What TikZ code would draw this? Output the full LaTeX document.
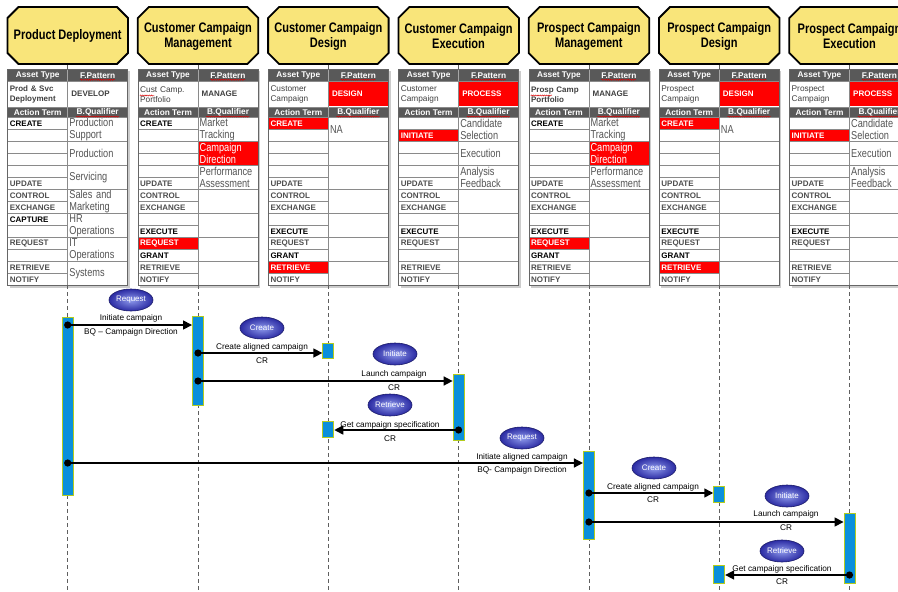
\documentclass[tikz,border=0pt]{standalone}
\usepackage{fontspec}
\setmainfont{Liberation Sans}
\newfontfamily\narrowfont[FakeStretch=0.8]{Liberation Sans}
\usetikzlibrary{arrows.meta,shapes.geometric,decorations.pathmorphing}

\definecolor{hdrfill}{HTML}{F9E57A}
\definecolor{thead}{HTML}{595959}
\definecolor{tred}{HTML}{FF0000}
\definecolor{gridc}{HTML}{8A8A8A}
\definecolor{actgray}{HTML}{4E4E4E}
\definecolor{bqgray}{HTML}{555555}
\definecolor{assetc}{HTML}{404040}
\definecolor{barfill}{HTML}{0A8FDB}
\definecolor{barline}{HTML}{B4CC1E}
\definecolor{ovalin}{HTML}{8E9AEC}
\definecolor{ovalout}{HTML}{2B2BA3}
\definecolor{ovalline}{HTML}{1C1C6A}
\definecolor{lifec}{HTML}{5F5F5F}

\newcounter{cellno}

\tikzset{
  cellname/.code={\stepcounter{cellno}\pgfkeysalso{name/.expanded={cell\arabic{cellno}}}},
  hdrline/.style={draw=black, line width=1.8pt, fill=hdrfill, line join=miter},
  hdrtext/.style={align=center, inner sep=0pt, font=\narrowfont\bfseries\fontsize{13.8}{15}\selectfont},
  th/.style={text=white, inner sep=0pt, font=\bfseries\fontsize{8.3}{9}\selectfont},
  act/.style={anchor=west, text width=56pt, inner xsep=2pt, inner ysep=0pt, minimum height=12pt,
    align=left, text=black, font=\bfseries\fontsize{8}{9}\selectfont},
  bqs/.style={anchor=west, text width=57pt, inner xsep=1.5pt, inner ysep=0pt, minimum height=24pt,
    align=left, text=bqgray, font=\narrowfont\fontsize{11.5}{12}\selectfont},
  assets/.style={anchor=west, text width=56pt, inner xsep=2pt, inner ysep=0pt, align=left,
    text=assetc, font=\fontsize{8.3}{10}\selectfont},
  fps/.style={anchor=west, text width=53pt, inner xsep=3.5pt, inner ysep=0pt, minimum height=24pt,
    align=left, text=assetc, font=\bfseries\fontsize{8}{9}\selectfont},
  gridl/.style={draw=gridc, line width=0.6pt},
  frame/.style={draw=black!60, line width=0.8pt},
  squig/.style={draw=red!85!black, line width=0.45pt, decorate,
    decoration={snake, segment length=2.2pt, amplitude=0.55pt}},
  lifeline/.style={draw=lifec, line width=0.7pt},
  lifedash/.style={draw=lifec, line width=0.7pt, dash pattern=on 4pt off 3pt},
  actbar/.style={rectangle, fill=barfill, draw=barline, line width=0.9pt, minimum width=11pt, inner sep=0pt},
  oval/.style={ellipse, minimum width=44pt, minimum height=22pt, inner sep=0pt, draw=ovalline,
    line width=0.6pt, inner color=ovalin, outer color=ovalout, text=white, font=\fontsize{8}{9}\selectfont},
  lbl/.style={inner sep=0pt, text=black, font=\fontsize{8.25}{9}\selectfont},
  msg/.style={draw=black, line width=1.5pt, -{Triangle[length=9pt,width=9pt]}},
}

% header plate with its lifeline anchors (local column coordinates)
\newcommand\hdrbox[2]{%
  \draw[hdrline] (7.5,18) -- (18.5,7) -- (117,7) -- (128,18) -- (128,53) -- (117,64) -- (18.5,64) -- (7.5,53) -- cycle;
  \node[hdrtext] (#1) at (67.7,36) {#2};
  \coordinate (#1-bot) at (67.7,64.9);
  \coordinate (#1-tab) at (67.7,69);
  \coordinate (#1-tb) at (67.7,285.3);
  \coordinate (#1-end) at (67.7,600);
}
% table background and heading rows
\newcommand\tablebase{%
  \fill[black!20] (9.7,71) rectangle (129.9,287.5);
  \fill[white] (7.7,69) rectangle (127.7,285.3);
  \fill[thead] (7.7,69) rectangle (127.7,81);
  \fill[thead] (7.7,107) rectangle (127.7,117.3);
  \node[th,cellname] at (37.7,75.2) {Asset Type};
  \node[th,cellname] at (97.7,75.2) {F.Pattern};
  \node[th,cellname] at (37.7,112.4) {Action Term};
  \node[th,cellname] at (97.7,112.4) {B.Qualifier};
}
% table rules drawn over the cell fills
\newcommand\tablegrid{%
  \foreach \r in {1,...,13} {\draw[gridl] (7.7,{117.3+12*\r}) -- (67.7,{117.3+12*\r});}
  \foreach \g in {1,...,6} {\draw[gridl] (67.7,{117.3+24*\g}) -- (127.7,{117.3+24*\g});}
  \draw[gridl] (7.7,81) -- (127.7,81) (7.7,107) -- (127.7,107) (7.7,117.3) -- (127.7,117.3);
  \draw[gridl] (67.7,81) -- (67.7,107) (67.7,117.3) -- (67.7,285.3);
  \draw[draw=black!35, line width=0.6pt] (67.7,69) -- (67.7,81) (67.7,107) -- (67.7,117.3);
  \draw[frame] (7.7,69) rectangle (127.7,285.3);
  \draw[squig] (80,79.8) -- (115,79.8);
  \draw[squig] (76,116.6) -- (119,116.6);
}
% cells
\newcommand\actk[2]{\node[act,cellname] at (7.7,{111.3+12*#1}) {#2};}
\newcommand\actg[2]{\node[act,cellname,text=actgray] at (7.7,{111.3+12*#1}) {#2};}
\newcommand\actr[2]{\node[act,cellname,fill=tred,text=white] at (7.7,{111.3+12*#1}) {#2};}
\newcommand\bq[2]{\node[bqs,cellname] at (67.7,{105.3+24*#1}) {#2};}
\newcommand\bqr[2]{\node[bqs,cellname,fill=tred,text=white] at (67.7,{105.3+24*#1}) {#2};}
\newcommand\asset[2][]{\node[assets,cellname,#1] at (7.7,94.5) {#2};}
\newcommand\fpat[1]{\node[fps,cellname] at (67.7,94) {#1};}
\newcommand\fpatr[1]{\node[fps,cellname,fill=tred,text=white] at (67.7,93.5) {#1};}

\newcommand\mgmtrows{%
  \actk{1}{CREATE}\actg{6}{UPDATE}\actg{7}{CONTROL}\actg{8}{EXCHANGE}\actk{10}{EXECUTE}%
  \actr{11}{REQUEST}\actk{12}{GRANT}\actg{13}{RETRIEVE}\actg{14}{NOTIFY}%
  \bq{1}{Market\\Tracking}\bqr{2}{Campaign\\Direction}\bq{3}{Performance\\Assessment}}
\newcommand\designrows{%
  \actr{1}{CREATE}\actg{6}{UPDATE}\actg{7}{CONTROL}\actg{8}{EXCHANGE}\actk{10}{EXECUTE}%
  \actg{11}{REQUEST}\actk{12}{GRANT}\actr{13}{RETRIEVE}\actg{14}{NOTIFY}%
  \bq{1}{NA}}
\newcommand\execrows{%
  \actr{2}{INITIATE}\actg{6}{UPDATE}\actg{7}{CONTROL}\actg{8}{EXCHANGE}\actk{10}{EXECUTE}%
  \actg{11}{REQUEST}\actg{13}{RETRIEVE}\actg{14}{NOTIFY}%
  \bq{1}{Candidate\\Selection}\bq{2}{Execution}\bq{3}{Analysis\\Feedback}}

\begin{document}
\begin{tikzpicture}[x=1pt,y=-1pt]
\useasboundingbox (0,0) rectangle (898,592);
\clip (0,0) rectangle (898,592);
\fill[white] (0,0) rectangle (898,592);

% Product Deployment
\begin{scope}[xshift=0pt]
  \hdrbox{hPD}{Product Deployment}
  \tablebase
  \asset[font=\bfseries\fontsize{8}{10}\selectfont]{Prod \& Svc\\Deployment}
  \fpat{DEVELOP}
  \actk{1}{CREATE}\actg{6}{UPDATE}\actg{7}{CONTROL}\actg{8}{EXCHANGE}\actk{9}{CAPTURE}
  \actg{11}{REQUEST}\actg{13}{RETRIEVE}\actg{14}{NOTIFY}
  \bq{1}{Production\\Support}\bq{2}{Production}\bq{3}{Servicing}\bq{4}{Sales and\\Marketing}
  \bq{5}{HR\\Operations}\bq{6}{IT\\Operations}\bq{7}{Systems}
  \tablegrid
\end{scope}

% Customer Campaign Management
\begin{scope}[xshift=130.3pt]
  \hdrbox{hCCM}{Customer Campaign\\Management}
  \tablebase
  \asset{Cust Camp.\\Portfolio}
  \draw[squig] (9.5,95.5) -- (24,95.5);
  \fpat{MANAGE}
  \mgmtrows
  \tablegrid
\end{scope}

% Customer Campaign Design
\begin{scope}[xshift=260.6pt]
  \hdrbox{hCCD}{Customer Campaign\\Design}
  \tablebase
  \asset{Customer\\Campaign}
  \fpatr{DESIGN}
  \designrows
  \tablegrid
\end{scope}

% Customer Campaign Execution
\begin{scope}[xshift=390.9pt]
  \hdrbox{hCCE}{Customer Campaign\\Execution}
  \tablebase
  \asset{Customer\\Campaign}
  \fpatr{PROCESS}
  \execrows
  \tablegrid
\end{scope}

% Prospect Campaign Management
\begin{scope}[xshift=521.2pt]
  \hdrbox{hPCM}{Prospect Campaign\\Management}
  \tablebase
  \asset[font=\bfseries\fontsize{8}{10}\selectfont]{Prosp Camp\\Portfolio}
  \draw[squig] (9.5,95.5) -- (31,95.5);
  \fpat{MANAGE}
  \mgmtrows
  \tablegrid
\end{scope}

% Prospect Campaign Design
\begin{scope}[xshift=651.5pt]
  \hdrbox{hPCD}{Prospect Campaign\\Design}
  \tablebase
  \asset{Prospect\\Campaign}
  \fpatr{DESIGN}
  \designrows
  \tablegrid
\end{scope}

% Prospect Campaign Execution
\begin{scope}[xshift=781.8pt]
  \hdrbox{hPCE}{Prospect Campaign\\Execution}
  \tablebase
  \asset{Prospect\\Campaign}
  \fpatr{PROCESS}
  \execrows
  \tablegrid
\end{scope}

% lifelines
\foreach \h in {hPD,hCCM,hCCD,hCCE,hPCM,hPCD,hPCE} {
  \draw[lifeline] (\h-bot) -- (\h-tab);
  \draw[lifedash] (\h-tb) -- (\h-end);
}

% activation bars
\node[actbar, minimum height=178pt] (bPD)   at (67.7,406)  {};
\node[actbar, minimum height=89pt]  (bCCM)  at (198,360.5) {};
\node[actbar, minimum height=15pt]  (bCCD1) at (328.3,350.5) {};
\node[actbar, minimum height=16pt]  (bCCD2) at (328.3,429) {};
\node[actbar, minimum height=66pt]  (bCCE)  at (458.6,407) {};
\node[actbar, minimum height=88pt]  (bPCM)  at (588.9,495) {};
\node[actbar, minimum height=16pt]  (bPCD1) at (719.2,494) {};
\node[actbar, minimum height=18pt]  (bPCD2) at (719.2,574) {};
\node[actbar, minimum height=70pt]  (bPCE)  at (849.5,548) {};

% message heights
\coordinate (m1) at (0,325);
\coordinate (m2) at (0,353);
\coordinate (m3) at (0,381);
\coordinate (m4) at (0,430);
\coordinate (m5) at (0,463);
\coordinate (m6) at (0,493);
\coordinate (m7) at (0,522);
\coordinate (m8) at (0,575);

% messages
\draw[msg] (bPD |- m1) -- (bCCM.west |- m1);
\fill (bPD |- m1) circle[radius=3.6pt];
\draw[msg] (bCCM |- m2) -- (bCCD1.west |- m2);
\fill (bCCM |- m2) circle[radius=3.6pt];
\draw[msg] (bCCM |- m3) -- (bCCE.west |- m3);
\fill (bCCM |- m3) circle[radius=3.6pt];
\draw[msg] (bCCE |- m4) -- (bCCD2.east |- m4);
\fill (bCCE |- m4) circle[radius=3.6pt];
\draw[msg] (bPD |- m5) -- (bPCM.west |- m5);
\fill (bPD |- m5) circle[radius=3.6pt];
\draw[msg] (bPCM |- m6) -- (bPCD1.west |- m6);
\fill (bPCM |- m6) circle[radius=3.6pt];
\draw[msg] (bPCM |- m7) -- (bPCE.west |- m7);
\fill (bPCM |- m7) circle[radius=3.6pt];
\draw[msg] (bPCE |- m8) -- (bPCD2.east |- m8);
\fill (bPCE |- m8) circle[radius=3.6pt];

% operation badges and message texts
\node[oval] (o1) at (131,300) {Request};
\node[lbl] (t1a) at (131,318.5) {Initiate campaign};
\node[lbl] (t1b) at (131,332) {BQ – Campaign Direction};

\node[oval] (o2) at (262,328) {Create};
\node[lbl] (t2a) at (262,347.5) {Create aligned campaign};
\node[lbl] (t2b) at (262,361) {CR};

\node[oval] (o3) at (395,354) {Initiate};
\node[lbl] (t3a) at (394,374.5) {Launch campaign};
\node[lbl] (t3b) at (394,388) {CR};

\node[oval] (o4) at (390,405) {Retrieve};
\node[lbl] (t4a) at (390,425.5) {Get campaign specification};
\node[lbl] (t4b) at (390,438.5) {CR};

\node[oval] (o5) at (522,438) {Request};
\node[lbl] (t5a) at (522,457) {Initiate aligned campaign};
\node[lbl] (t5b) at (522,470) {BQ- Campaign Direction};

\node[oval] (o6) at (654,468) {Create};
\node[lbl] (t6a) at (653,487) {Create aligned campaign};
\node[lbl] (t6b) at (653,500) {CR};

\node[oval] (o7) at (787,496) {Initiate};
\node[lbl] (t7a) at (786,514.5) {Launch campaign};
\node[lbl] (t7b) at (786,527.5) {CR};

\node[oval] (o8) at (782,551) {Retrieve};
\node[lbl] (t8a) at (782,569) {Get campaign specification};
\node[lbl] (t8b) at (782,582) {CR};
\end{tikzpicture}
\end{document}
